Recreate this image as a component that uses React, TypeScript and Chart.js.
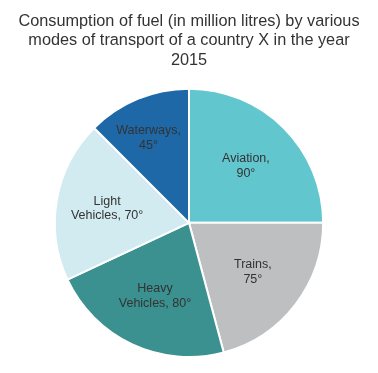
import React, { useEffect, useRef } from "react";
import { Chart, registerables } from "chart.js";

Chart.register(...registerables);

const titleLines = [
  "Consumption of fuel (in million litres) by various",
  "modes of transport of a country X in the year",
  "2015",
];
const categories = ["Aviation", "Trains", "Heavy Vehicles", "Light Vehicles", "Waterways"];
const labelLines = [
  ["Aviation,", "90°"],
  ["Trains,", "75°"],
  ["Heavy", "Vehicles, 80°"],
  ["Light", "Vehicles, 70°"],
  ["Waterways,", "45°"],
];
const degrees = [90, 75, 80, 70, 45];
const colors = ["#62C6CE", "#BEBFC1", "#3A918F", "#D2EBF0", "#1E68A8"];
const labelRadius = [0.6, 0.6, 0.6, 0.62, 0.7];
const labelAngleShift = [0, 0, 0, 0, -3];

const labelPlugin = {
  id: "sliceLabels",
  afterDatasetsDraw(chart: any) {
    const ctx = chart.ctx;
    const meta = chart.getDatasetMeta(0);
    ctx.save();
    ctx.font = "12.5px 'Liberation Sans', Arial, sans-serif";
    ctx.fillStyle = "#333333";
    ctx.textAlign = "center";
    ctx.textBaseline = "middle";
    meta.data.forEach((arc: any, i: number) => {
      const { x, y, startAngle, endAngle, outerRadius } = arc.getProps(
        ["x", "y", "startAngle", "endAngle", "outerRadius"],
        true
      );
      const mid = (startAngle + endAngle) / 2 + (labelAngleShift[i] * Math.PI) / 180;
      const r = outerRadius * labelRadius[i];
      const cx = x + Math.cos(mid) * r;
      const cy = y + Math.sin(mid) * r;
      const lines = labelLines[i];
      const lh = 14.5;
      lines.forEach((t, k) => {
        ctx.fillText(t, cx, cy + (k - (lines.length - 1) / 2) * lh);
      });
    });
    ctx.restore();
  },
};

export default function App() {
  const ref = useRef<HTMLCanvasElement>(null);
  useEffect(() => {
    document.body.style.margin = "0";
    const chart = new Chart(ref.current!, {
      type: "pie",
      data: {
        labels: categories,
        datasets: [
          {
            data: degrees,
            backgroundColor: colors,
            borderColor: "#ffffff",
            borderWidth: 2,
          },
        ],
      },
      options: {
        responsive: false,
        animation: false,
        layout: { padding: { top: 0, bottom: 15, left: 0, right: 0 } },
        plugins: {
          legend: { display: false },
          tooltip: { enabled: false },
          title: {
            display: true,
            text: titleLines,
            color: "#333333",
            font: { family: "'Liberation Sans', Arial, sans-serif", size: 16.3, weight: "normal", lineHeight: 1.18 },
            padding: { top: 12, bottom: 18 },
          },
        },
      },
      plugins: [labelPlugin],
    });
    return () => chart.destroy();
  }, []);
  return (
    <div style={{ width: 378, height: 373, background: "#ffffff" }}>
      <canvas ref={ref} width={378} height={373} />
    </div>
  );
}
